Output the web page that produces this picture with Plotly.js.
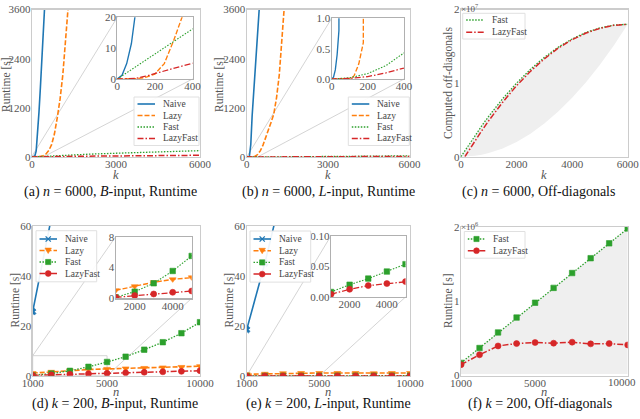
<!DOCTYPE html>
<html>
<head>
<meta charset="utf-8">
<script src="https://cdn.plot.ly/plotly-3.0.1.min.js"></script>
<style>
body { margin: 0; background: #fff; }
#chart { width: 640px; height: 419px; }
</style>
</head>
<body>
<div id="chart"></div>
<script>
// (a) n = 6000, B-input, runtime [s] against k
var kA_naive = [0, 25, 50, 75, 100, 150, 200, 250, 300, 350, 400, 450, 500];
var tA_naive = [0, 1.2, 5, 11.5, 23, 150, 550, 1100, 1700, 2350, 3000, 3650, 4300];
var kA_lazy = [0, 50, 100, 150, 200, 250, 300, 350, 400, 500, 600, 700, 800, 900, 1000, 1100, 1200, 1300, 1400];
var tA_lazy = [0, 0, 0.1, 0.5, 1.6, 5, 12.5, 21, 32, 75, 160, 300, 560, 950, 1400, 2000, 2750, 3600, 4600];
var kA_fast = [0, 100, 200, 300, 400, 1000, 2000, 3000, 4000, 5000, 6000];
var tA_fast = [0, 4, 8.1, 12.2, 16.2, 38, 68, 92, 115, 136, 155];
var kA_lazyfast = [0, 50, 100, 150, 200, 250, 300, 350, 400, 1000, 2000, 3000, 4000, 5000, 6000];
var tA_lazyfast = [0, 0.05, 0.2, 0.9, 1.8, 2.6, 3.4, 4.3, 5.1, 12, 20, 26, 32, 37, 42];

// (b) n = 6000, L-input
var kB_naive = [0, 10, 20, 30, 40, 50, 75, 100, 150, 200, 250, 300, 350, 400, 450, 500];
var tB_naive = [0, 0.03, 0.15, 0.4, 0.8, 1.5, 6, 20, 300, 1000, 1500, 2000, 2550, 3050, 3500, 4000];
var kB_lazy = [0, 100, 110, 125, 150, 175, 190, 200, 250, 300, 400, 500, 600, 700, 800, 900, 1000, 1100, 1200, 1300, 1400];
var tB_lazy = [0, 0, 0.01, 0.06, 0.25, 0.6, 1.0, 1.3, 4, 12, 60, 150, 290, 460, 650, 850, 1050, 1450, 2000, 2800, 3800];
var kB_fast = [0, 100, 200, 300, 400, 1000, 2000, 3000, 4000, 5000, 6000];
var tB_fast = [0, 0.02, 0.09, 0.22, 0.43, 2, 6, 11, 17, 23, 30];
var tB_lazyfast = [0, 0.01, 0.04, 0.1, 0.18, 1, 3, 5, 8, 11, 14];

// (c) n = 6000, computed off-diagonals
var kC = [0, 250, 500, 750, 1000, 1500, 2000, 2500, 3000, 3500, 4000, 4500, 5000, 5500, 6000];
var offC_fast = [0, 1.47e6, 2.88e6, 4.22e6, 5.5e6, 7.88e6, 10e6, 11.88e6, 13.5e6, 14.88e6, 16e6, 16.88e6, 17.5e6, 17.88e6, 18e6];
var offC_low = [0, 0.031e6, 0.125e6, 0.28e6, 0.5e6, 1.125e6, 2e6, 3.125e6, 4.5e6, 6.125e6, 8e6, 10.125e6, 12.5e6, 15.125e6, 18e6];
var kC_lazyfast = [140, 250, 500, 750, 1000, 1500, 2000, 2500, 3000, 3500, 4000, 4500, 5000, 5500, 6000];
var offC_lazyfast = [0, 0.6e6, 2.1e6, 3.55e6, 4.9e6, 7.4e6, 9.65e6, 11.6e6, 13.3e6, 14.75e6, 15.9e6, 16.8e6, 17.45e6, 17.85e6, 18e6];

// (d), (e), (f) k = 200, against n
var nVals = [1000, 2000, 3000, 4000, 5000, 6000, 7000, 8000, 9000, 10000];
var nNaive = [1000, 2000, 3000];
var tD_naive = [25.6, 63, 120];
var tD_lazy = [1.04, 1.56, 2.08, 2.46, 2.72, 2.9, 3.1, 3.3, 3.5, 3.8];
var tD_fast = [0.13, 0.86, 1.95, 3.55, 5.5, 7.6, 10.4, 13.4, 17.0, 21.4];
var tD_lazyfast = [0.13, 0.35, 0.56, 0.78, 0.95, 1.15, 1.35, 1.55, 1.75, 2.0];

var tE_naive = [18.5, 45, 75];
var tE_lazy = [0.7, 0.9, 1.1, 1.2, 1.2, 1.2, 1.2, 1.1, 1.2, 1.2];
var tE_fast = [0.0082, 0.020, 0.030, 0.0415, 0.0536, 0.066, 0.08, 0.094, 0.11, 0.125];
var tE_lazyfast = [0.0044, 0.0126, 0.0186, 0.0219, 0.0251, 0.028, 0.031, 0.034, 0.037, 0.04];

var offF_fast = [0.17e6, 0.37e6, 0.58e6, 0.78e6, 0.98e6, 1.18e6, 1.38e6, 1.58e6, 1.78e6, 1.98e6];
var offF_lazyfast = [0.146e6, 0.279e6, 0.398e6, 0.43e6, 0.444e6, 0.435e6, 0.449e6, 0.426e6, 0.43e6, 0.412e6];
var offF_low = [2e4, 2e4, 2e4, 2e4, 2e4, 2e4, 2e4, 2e4, 2e4, 2e4];

var SERIF = 'Liberation Serif, DejaVu Serif, serif';
var W = 640, H = 419;

var ST = {
    Naive: { color: '#1f77b4', dash: 'solid', width: 1.6, symbol: 'x', size: 6 },
    Lazy: { color: '#ff7f0e', dash: '5px,2px', width: 1.6, symbol: 'triangle-down', size: 6 },
    Fast: { color: '#2ca02c', dash: '1.5px,1.5px', width: 1.3, symbol: 'square', size: 5.5 },
    LazyFast: { color: '#d62728', dash: '6px,2px,1.5px,2px', width: 1.5, symbol: 'circle', size: 6 }
};

function xd(a, b) { return [a / W, b / W]; }
function yd(top, bottom) { return [1 - bottom / H, 1 - top / H]; }
function P(x) { return x / W; }
function Q(y) { return 1 - y / H; }

function series(name, x, y, ax, markers, inset) {
    var s = ST[name];
    var t = {
        type: 'scatter', mode: markers ? 'lines+markers' : 'lines',
        name: name, x: x, y: y, xaxis: 'x' + ax, yaxis: 'y' + ax,
        line: { color: s.color, dash: s.dash, width: inset ? s.width * 0.85 : s.width },
        hoverinfo: 'skip', showlegend: false
    };
    if (markers) t.marker = { symbol: s.symbol, size: s.size, color: s.color, line: { width: 0.6, color: s.color } };
    return t;
}
function band(x, lo, hi, ax) {
    return [
        { type: 'scatter', mode: 'lines', x: x, y: lo, xaxis: 'x' + ax, yaxis: 'y' + ax,
          line: { width: 0 }, showlegend: false, hoverinfo: 'skip' },
        { type: 'scatter', mode: 'lines', x: x, y: hi, xaxis: 'x' + ax, yaxis: 'y' + ax,
          line: { width: 0 }, fill: 'tonexty', fillcolor: '#efefef', showlegend: false, hoverinfo: 'skip' }
    ];
}

var traces = [];
// (a)
traces.push(series('Naive', kA_naive, tA_naive, ''));
traces.push(series('Lazy', kA_lazy, tA_lazy, ''));
traces.push(series('Fast', kA_fast, tA_fast, ''));
traces.push(series('LazyFast', kA_lazyfast, tA_lazyfast, ''));
traces.push(series('Naive', kA_naive, tA_naive, '2', false, true));
traces.push(series('Lazy', kA_lazy, tA_lazy, '2', false, true));
traces.push(series('Fast', kA_fast, tA_fast, '2', false, true));
traces.push(series('LazyFast', kA_lazyfast, tA_lazyfast, '2', false, true));
// (b)
traces.push(series('Naive', kB_naive, tB_naive, '3'));
traces.push(series('Lazy', kB_lazy, tB_lazy, '3'));
traces.push(series('Fast', kB_fast, tB_fast, '3'));
traces.push(series('LazyFast', kB_fast, tB_lazyfast, '3'));
traces.push(series('Naive', kB_naive, tB_naive, '4', false, true));
traces.push(series('Lazy', kB_lazy, tB_lazy, '4', false, true));
traces.push(series('Fast', kB_fast, tB_fast, '4', false, true));
traces.push(series('LazyFast', kB_fast, tB_lazyfast, '4', false, true));
// (c)
traces = traces.concat(band(kC, offC_low, offC_fast, '5'));
traces.push(series('Fast', kC, offC_fast, '5'));
traces.push(series('LazyFast', kC_lazyfast, offC_lazyfast, '5'));
// (d)
traces.push(series('Naive', nNaive, tD_naive, '6', true));
traces.push(series('Lazy', nVals, tD_lazy, '6', true));
traces.push(series('Fast', nVals, tD_fast, '6', true));
traces.push(series('LazyFast', nVals, tD_lazyfast, '6', true));
traces.push(series('Lazy', nVals, tD_lazy, '7', true, true));
traces.push(series('Fast', nVals, tD_fast, '7', true, true));
traces.push(series('LazyFast', nVals, tD_lazyfast, '7', true, true));
// (e)
traces.push(series('Naive', nNaive, tE_naive, '8', true));
traces.push(series('Lazy', nVals, tE_lazy, '8', true));
traces.push(series('Fast', nVals, tE_fast, '8', true));
traces.push(series('LazyFast', nVals, tE_lazyfast, '8', true));
traces.push(series('Fast', nVals, tE_fast, '9', true, true));
traces.push(series('LazyFast', nVals, tE_lazyfast, '9', true, true));
// (f)
traces = traces.concat(band(nVals, offF_low, offF_fast, '10'));
traces.push(series('Fast', nVals, offF_fast, '10', true));
traces.push(series('LazyFast', nVals, offF_lazyfast, '10', true));

// axes boxes in pixels of the 640x419 picture
var AX = {
    A: { x: xd(32, 200), y: yd(9.5, 157), xr: [0, 6000], yr: [0, 3600] },
    Ai: { x: xd(117.3, 192.5), y: yd(17.3, 79), xr: [0, 400], yr: [0, 20] },
    B: { x: xd(246.7, 409.5), y: yd(9.5, 157), xr: [0, 6000], yr: [0, 3600] },
    Bi: { x: xd(331.7, 404), y: yd(18.3, 79), xr: [0, 400], yr: [0, 1] },
    C: { x: xd(461, 627.7), y: yd(9.5, 156.7), xr: [0, 6000], yr: [0, 2e7] },
    D: { x: xd(32.7, 200), y: yd(225.7, 375.7), xr: [1000, 10000], yr: [0, 60] },
    Di: { x: xd(115.7, 191.7), y: yd(236.7, 298.3), xr: [1000, 5000], yr: [0, 8] },
    E: { x: xd(246.7, 410), y: yd(225.7, 376), xr: [1000, 10000], yr: [0, 60] },
    Ei: { x: xd(331, 405.5), y: yd(235.7, 297), xr: [1000, 5000], yr: [0, 0.1] },
    F: { x: xd(461, 627.7), y: yd(227, 375.5), xr: [1000, 10000], yr: [0, 2e6] }
};

function axis(dom, rng, tv, tt, anchor, inset) {
    return {
        domain: dom, range: rng, tickvals: tv, ticktext: tt || tv.map(String), anchor: anchor,
        showgrid: false, zeroline: false, showline: true, mirror: true,
        linecolor: inset ? '#b0b0b0' : '#cccccc', linewidth: 1.2, ticks: '',
        ticklabelstandoff: anchor.charAt(0) === 'y' ? -3 : -2, ticklabeloverflow: 'allow',
        tickfont: { family: SERIF, size: 11, color: '#555' }, fixedrange: true
    };
}

var layout = {
    width: W, height: H, margin: { l: 0, r: 0, t: 0, b: 0 },
    paper_bgcolor: '#fff', plot_bgcolor: 'rgba(0,0,0,0)', showlegend: false,
    font: { family: SERIF, color: '#444' },
    xaxis: axis(AX.A.x, AX.A.xr, [0, 3000, 6000], null, 'y'),
    yaxis: axis(AX.A.y, AX.A.yr, [0, 1200, 2400, 3600], null, 'x'),
    xaxis2: axis(AX.Ai.x, AX.Ai.xr, [0, 200, 400], null, 'y2', true),
    yaxis2: axis(AX.Ai.y, AX.Ai.yr, [0, 10, 20], null, 'x2', true),
    xaxis3: axis(AX.B.x, AX.B.xr, [0, 3000, 6000], null, 'y3'),
    yaxis3: axis(AX.B.y, AX.B.yr, [0, 1200, 2400, 3600], null, 'x3'),
    xaxis4: axis(AX.Bi.x, AX.Bi.xr, [0, 200, 400], null, 'y4', true),
    yaxis4: axis(AX.Bi.y, AX.Bi.yr, [0, 0.5, 1], ['0.0', '0.5', '1.0'], 'x4', true),
    xaxis5: axis(AX.C.x, AX.C.xr, [0, 2000, 4000, 6000], null, 'y5'),
    yaxis5: axis(AX.C.y, AX.C.yr, [0, 1e7, 2e7], ['0', '1', '2'], 'x5'),
    xaxis6: axis(AX.D.x, AX.D.xr, [1000, 5000, 10000], null, 'y6'),
    yaxis6: axis(AX.D.y, AX.D.yr, [0, 20, 40, 60], null, 'x6'),
    xaxis7: axis(AX.Di.x, AX.Di.xr, [2000, 4000], null, 'y7', true),
    yaxis7: axis(AX.Di.y, AX.Di.yr, [0, 4, 8], null, 'x7', true),
    xaxis8: axis(AX.E.x, AX.E.xr, [1000, 5000, 10000], null, 'y8'),
    yaxis8: axis(AX.E.y, AX.E.yr, [0, 20, 40, 60], null, 'x8'),
    xaxis9: axis(AX.Ei.x, AX.Ei.xr, [2000, 4000], null, 'y9', true),
    yaxis9: axis(AX.Ei.y, AX.Ei.yr, [0, 0.05, 0.1], ['0.00', '0.05', '0.10'], 'x9', true),
    // last label of (f) runs past the page edge, so it is written as a note below
    xaxis10: axis(AX.F.x, AX.F.xr, [1000, 5000], null, 'y10'),
    yaxis10: axis(AX.F.y, AX.F.yr, [0, 1e6, 2e6], ['0', '1', '2'], 'x10'),
    shapes: [], annotations: []
};

function note(txt, x, y, opts) {
    layout.annotations.push(Object.assign({ text: txt, xref: 'paper', yref: 'paper', x: P(x), y: Q(y),
        xanchor: 'center', yanchor: 'middle', showarrow: false,
        font: { family: SERIF, size: 11.5, color: '#555' } }, opts || {}));
}
note('10000', 638, 382, { xanchor: 'right', font: { family: SERIF, size: 11, color: '#555' } });

// inset marks: rectangle in the main axes and two connector lines
function px(dom, rng, v) { return dom[0] + (v - rng[0]) / (rng[1] - rng[0]) * (dom[1] - dom[0]); }
function markInset(main, ins, xa, ya) {
    var ln = { color: '#cfcfcf', width: 0.9 };
    layout.shapes.push({ type: 'rect', xref: xa, yref: ya, x0: ins.xr[0], x1: ins.xr[1], y0: ins.yr[0], y1: ins.yr[1],
        line: ln, layer: 'below' });
    layout.shapes.push({ type: 'line', xref: 'paper', yref: 'paper',
        x0: px(main.x, main.xr, ins.xr[0]), y0: px(main.y, main.yr, ins.yr[1]), x1: ins.x[0], y1: ins.y[1],
        line: ln, layer: 'below' });
    layout.shapes.push({ type: 'line', xref: 'paper', yref: 'paper',
        x0: px(main.x, main.xr, ins.xr[1]), y0: px(main.y, main.yr, ins.yr[0]), x1: ins.x[1], y1: ins.y[0],
        line: ln, layer: 'below' });
}
markInset(AX.A, AX.Ai, 'x', 'y');
markInset(AX.B, AX.Bi, 'x3', 'y3');
markInset(AX.D, AX.Di, 'x6', 'y6');
markInset(AX.E, AX.Ei, 'x8', 'y8');

// legends: box, key line, key marker, label (matplotlib-like compact rows)
function keyMarker(sym, cx, cy, color) {
    var r = 2.6;
    var base = { xref: 'paper', yref: 'paper', layer: 'above', fillcolor: color, line: { color: color, width: 0.6 } };
    if (sym === 'square') return Object.assign(base, { type: 'rect', x0: P(cx - r), x1: P(cx + r), y0: Q(cy + r), y1: Q(cy - r) });
    if (sym === 'circle') return Object.assign(base, { type: 'circle', x0: P(cx - r - 0.3), x1: P(cx + r + 0.3), y0: Q(cy + r + 0.3), y1: Q(cy - r - 0.3) });
    if (sym === 'triangle-down') return Object.assign(base, { type: 'path',
        path: 'M' + P(cx - 3.2) + ',' + Q(cy - 2.4) + ' L' + P(cx + 3.2) + ',' + Q(cy - 2.4) + ' L' + P(cx) + ',' + Q(cy + 3) + ' Z' });
    return Object.assign(base, { type: 'path', line: { color: color, width: 1.3 },
        path: 'M' + P(cx - 2.6) + ',' + Q(cy - 2.6) + ' L' + P(cx + 2.6) + ',' + Q(cy + 2.6) +
              ' M' + P(cx - 2.6) + ',' + Q(cy + 2.6) + ' L' + P(cx + 2.6) + ',' + Q(cy - 2.6) });
}
function legendBox(names, x0, y0, w, firstRow, rowH, withMarkers) {
    var h = firstRow * 2 + rowH * (names.length - 1);
    layout.shapes.push({ type: 'rect', xref: 'paper', yref: 'paper', layer: 'above',
        x0: P(x0), x1: P(x0 + w), y0: Q(y0 + h), y1: Q(y0),
        fillcolor: 'rgba(255,255,255,0.92)', line: { color: '#e0e0e0', width: 1 } });
    names.forEach(function (nm, i) {
        var s = ST[nm], cy = y0 + firstRow + i * rowH;
        layout.shapes.push({ type: 'line', xref: 'paper', yref: 'paper', layer: 'above',
            x0: P(x0 + 3.5), x1: P(x0 + 21), y0: Q(cy), y1: Q(cy),
            line: { color: s.color, width: s.width, dash: s.dash } });
        if (withMarkers) layout.shapes.push(keyMarker(s.symbol, x0 + 12.2, cy, s.color));
        note(nm, x0 + 27, cy, { xanchor: 'left', font: { family: SERIF, size: 9.5, color: '#444' } });
    });
}
var ALL = ['Naive', 'Lazy', 'Fast', 'LazyFast'];
legendBox(ALL, 134, 97, 65, 7, 11.5, false);
legendBox(ALL, 348.3, 97, 61, 7, 11.5, false);
legendBox(['Fast', 'LazyFast'], 462.7, 13.3, 62.3, 6.7, 12.3, false);
legendBox(ALL, 36, 230.7, 60.7, 8.3, 11.5, true);
legendBox(ALL, 250, 231, 60.7, 8, 11.7, true);
legendBox(['Fast', 'LazyFast'], 464.3, 231.5, 60.7, 7.5, 11.7, true);

// axis titles
var ytitle = { textangle: -90, font: { family: SERIF, size: 11.5, color: '#555' } };
note('Runtime [s]', 6, 85, ytitle);
note('Runtime [s]', 219, 85, ytitle);
note('Computed off-diagonals', 448, 83, ytitle);
note('Runtime [s]', 14.5, 300, ytitle);
note('Runtime [s]', 228.5, 300, ytitle);
note('Runtime [s]', 448, 301, ytitle);
var xtitle = { font: { family: SERIF, size: 12.5, color: '#555' } };
note('<i>k</i>', 116, 175, xtitle);
note('<i>k</i>', 328, 175, xtitle);
note('<i>k</i>', 544, 175, xtitle);
note('<i>n</i>', 116, 392, xtitle);
note('<i>n</i>', 328, 392, xtitle);
note('<i>n</i>', 544, 392, xtitle);

// offset texts for scientific axes
note('×10<sup>7</sup>', 458.5, 0, { xanchor: 'left', yanchor: 'top', font: { family: SERIF, size: 9, color: '#555' } });
note('×10<sup>6</sup>', 458.5, 218, { xanchor: 'left', yanchor: 'top', font: { family: SERIF, size: 9, color: '#555' } });

// captions
var captions = [
    ['(a) <i>n</i> = 6000, <i>B</i>-input, Runtime', 110, 192],
    ['(b) <i>n</i> = 6000, <i>L</i>-input, Runtime', 328, 192],
    ['(c) <i>n</i> = 6000, Off-diagonals', 538, 192],
    ['(d) <i>k</i> = 200, <i>B</i>-input, Runtime', 115, 404],
    ['(e) <i>k</i> = 200, <i>L</i>-input, Runtime', 328, 404],
    ['(f) <i>k</i> = 200, Off-diagonals', 540, 404]
];
captions.forEach(function (c) {
    note(c[0], c[1], c[2], { font: { family: SERIF, size: 14, color: '#111' } });
});

Plotly.newPlot('chart', traces, layout, { staticPlot: true });
</script>
</body>
</html>
